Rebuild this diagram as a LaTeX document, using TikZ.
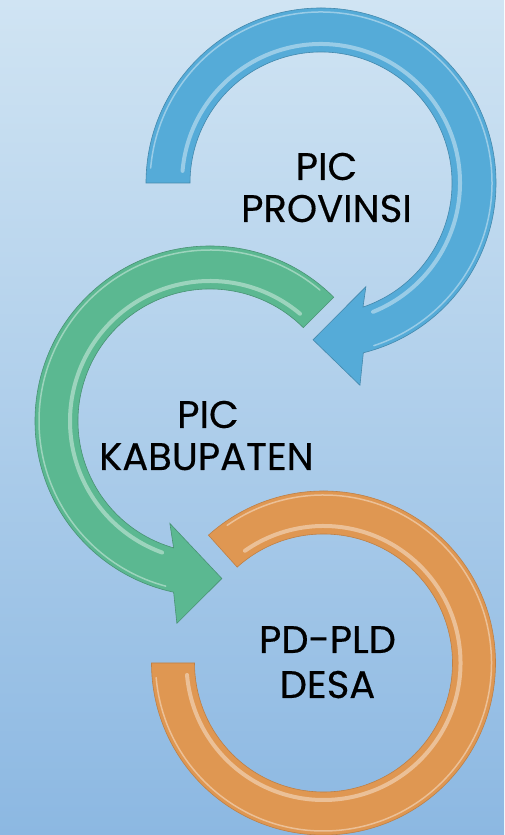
\documentclass[tikz,border=0pt]{standalone}
\usepackage{fontspec}
\setmainfont{Poppins}[FakeBold=0.4]
\usetikzlibrary{calc}
\definecolor{bgtop}{HTML}{D0E4F3}
\definecolor{bgbot}{HTML}{8CB8E2}
\definecolor{arcblue}{HTML}{55ABD8}
\definecolor{arcgreen}{HTML}{5BB891}
\definecolor{arcorange}{HTML}{DF9752}
\tikzset{
  lbl/.style={anchor=base, inner sep=0pt, font=\fontsize{38.5}{42}\selectfont, text=black},
  edge/.style={line width=0.6pt},
  shine/.style={draw=white, line width=4pt, opacity=0.4, line cap=round},
}
\begin{document}
\begin{tikzpicture}[x=1pt,y=1pt]
\useasboundingbox (0,0) rectangle (504,835);
\shade[top color=bgtop, bottom color=bgbot] (0,0) rectangle (504,835);
\coordinate (cB) at (321,652);
\coordinate (cG) at (210,414);
\coordinate (cO) at (323.5,172);
% orange ring
\filldraw[fill=arcorange, draw=arcorange!85!black, edge]
  ($(cO)+(180:172)$) arc[start angle=180, end angle=492, radius=172]
  -- ($(cO)+(132:129)$) arc[start angle=132, end angle=180-360, radius=129] -- cycle;
\draw[shine] ($(cO)+(185:137)$) arc[start angle=185, end angle=485, radius=137];
\draw[shine, line width=1.5pt] ($(cO)+(185:168)$) arc[start angle=185, end angle=485, radius=168];
% green arrow
\filldraw[fill=arcgreen, draw=arcgreen!80!black, edge]
  ($(cG)+(45:175)$) arc[start angle=45, end angle=258, radius=175]
  -- ($(cG)+(260.7:205)$) -- ($(cG)+(274.3:158)$) -- ($(cG)+(248.6:110)$)
  -- ($(cG)+(254:132)$) arc[start angle=254, end angle=45, radius=132] -- cycle;
\draw[shine] ($(cG)+(50:140)$) arc[start angle=50, end angle=250, radius=140];
\draw[shine, line width=1.5pt] ($(cG)+(50:171)$) arc[start angle=50, end angle=255, radius=171];
% blue arrow
\filldraw[fill=arcblue, draw=arcblue!80!black, edge]
  ($(cB)+(180:175)$) arc[start angle=180, end angle=-76, radius=175]
  -- ($(cB)+(-79.1:206)$) -- ($(cB)+(-92.9:157)$) -- ($(cB)+(-66.6:113)$)
  -- ($(cB)+(-71.3:131)$) arc[start angle=-71.3, end angle=180, radius=131] -- cycle;
\draw[shine] ($(cB)+(175:139)$) arc[start angle=175, end angle=-68, radius=139];
\draw[shine, line width=1.5pt] ($(cB)+(175:171)$) arc[start angle=175, end angle=-72, radius=171];
% labels
\node[lbl] (p1) at (326.5,655) {PIC};
\node[lbl] (p2) at (326.5,613) {PROVINSI};
\node[lbl] (k1) at (208,407) {PIC};
\node[lbl] (k2) at (206.5,365) {KABUPATEN};
\node[lbl] (d1) at (327.5,182) {PD-PLD};
\node[lbl] (d2) at (327.5,137) {DESA};
\end{tikzpicture}
\end{document}
